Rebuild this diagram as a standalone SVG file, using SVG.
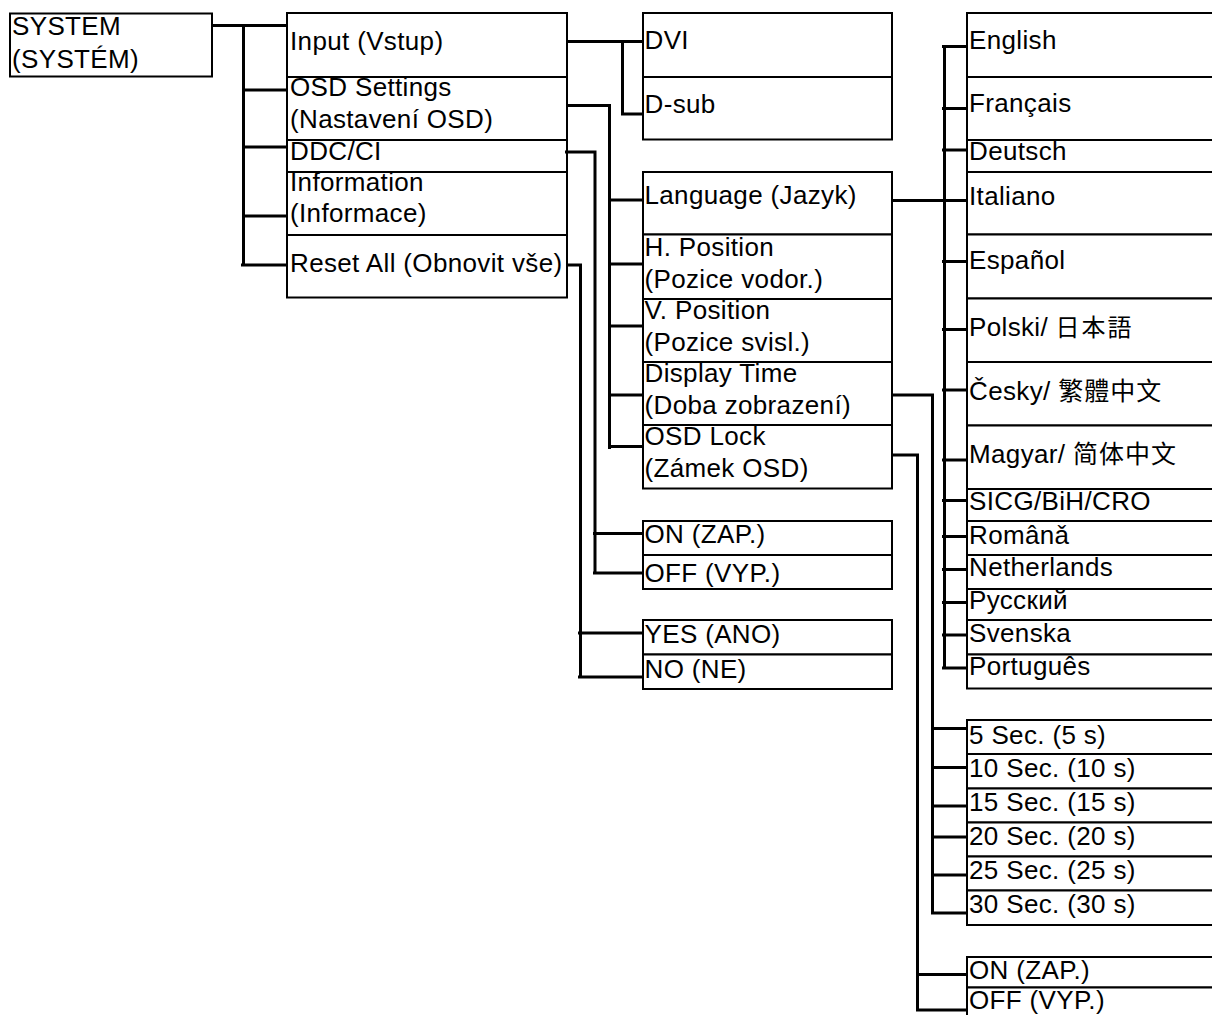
<svg xmlns="http://www.w3.org/2000/svg" width="1212" height="1015" viewBox="0 0 1212 1015">
<style>
.box{fill:#fff;stroke:#000;stroke-width:2}
.t{font-family:"Liberation Sans",Arial,sans-serif;font-size:26px;letter-spacing:0.35px;fill:#000}
.c{fill:none;stroke:#000;stroke-width:3}
.jp{font-family:"Noto Sans CJK JP",sans-serif;font-size:24px;letter-spacing:2px}
.tc{font-family:"Noto Sans CJK TC",sans-serif;font-size:25px;letter-spacing:1px}
.sc{font-family:"Noto Sans CJK SC",sans-serif;font-size:25px;letter-spacing:1px}
</style>
<rect width="1212" height="1015" fill="#fff"/>
<g id="system"><rect class="box" x="10" y="13.5" width="202" height="63"/><text class="t" x="12" y="35">SYSTEM</text><text class="t" x="12" y="68">(SYSTÉM)</text></g>

<g id="input"><rect class="box" x="287" y="13" width="280" height="64"/><text class="t" x="290" y="50">Input (Vstup)</text></g>
<g id="osd-settings"><rect class="box" x="287" y="77" width="280" height="63"/><text class="t" x="290" y="95.5">OSD Settings</text><text class="t" x="290" y="127.5">(Nastavení OSD)</text></g>
<g id="ddc-ci"><rect class="box" x="287" y="140" width="280" height="32"/><text class="t" x="290" y="160">DDC/CI</text></g>
<g id="information"><rect class="box" x="287" y="172" width="280" height="63"/><text class="t" x="290" y="190.5">Information</text><text class="t" x="290" y="222">(Informace)</text></g>
<g id="reset-all"><rect class="box" x="287" y="235" width="280" height="62.5"/><text class="t" x="290" y="271.5">Reset All (Obnovit vše)</text></g>

<g id="dvi"><rect class="box" x="643" y="13" width="249" height="64"/><text class="t" x="644.5" y="49">DVI</text></g>
<g id="d-sub"><rect class="box" x="643" y="77" width="249" height="62.5"/><text class="t" x="644.5" y="112.5">D-sub</text></g>
<g id="language"><rect class="box" x="643" y="172" width="249" height="62.5"/><text class="t" x="644.5" y="204">Language (Jazyk)</text></g>
<g id="h-position"><rect class="box" x="643" y="234.5" width="249" height="64.5"/><text class="t" x="644.5" y="256">H. Position</text><text class="t" x="644.5" y="288">(Pozice vodor.)</text></g>
<g id="v-position"><rect class="box" x="643" y="299" width="249" height="63"/><text class="t" x="644.5" y="318.5">V. Position</text><text class="t" x="644.5" y="350.5">(Pozice svisl.)</text></g>
<g id="display-time"><rect class="box" x="643" y="362" width="249" height="63"/><text class="t" x="644.5" y="381.5">Display Time</text><text class="t" x="644.5" y="413.5">(Doba zobrazení)</text></g>
<g id="osd-lock"><rect class="box" x="643" y="425" width="249" height="63.5"/><text class="t" x="644.5" y="445">OSD Lock</text><text class="t" x="644.5" y="477">(Zámek OSD)</text></g>
<g id="ddc-on"><rect class="box" x="643" y="521" width="249" height="34"/><text class="t" x="644.5" y="543">ON (ZAP.)</text></g>
<g id="ddc-off"><rect class="box" x="643" y="555" width="249" height="34"/><text class="t" x="644.5" y="581.5">OFF (VYP.)</text></g>
<g id="reset-yes"><rect class="box" x="643" y="620" width="249" height="34.5"/><text class="t" x="644.5" y="643">YES (ANO)</text></g>
<g id="reset-no"><rect class="box" x="643" y="654.5" width="249" height="34.5"/><text class="t" x="644.5" y="678">NO (NE)</text></g>

<g id="lang-english"><rect class="box" x="967" y="13" width="260" height="64"/><text class="t" x="969" y="49">English</text></g>
<g id="lang-francais"><rect class="box" x="967" y="77" width="260" height="63"/><text class="t" x="969" y="111.5">Français</text></g>
<g id="lang-deutsch"><rect class="box" x="967" y="140" width="260" height="32"/><text class="t" x="969" y="159.5">Deutsch</text></g>
<g id="lang-italiano"><rect class="box" x="967" y="172" width="260" height="62.5"/><text class="t" x="969" y="205">Italiano</text></g>
<g id="lang-espanol"><rect class="box" x="967" y="234.5" width="260" height="64"/><text class="t" x="969" y="268.5">Español</text></g>
<g id="lang-polski"><rect class="box" x="967" y="298.5" width="260" height="63.5"/><text class="t" x="969" y="336">Polski/ <tspan class="jp">日本語</tspan></text></g>
<g id="lang-cesky"><rect class="box" x="967" y="362" width="260" height="63.5"/><text class="t" x="969" y="399.5">Česky/ <tspan class="tc">繁體中文</tspan></text></g>
<g id="lang-magyar"><rect class="box" x="967" y="425.5" width="260" height="63.5"/><text class="t" x="969" y="462.5">Magyar/ <tspan class="sc">简体中文</tspan></text></g>
<g id="lang-sicg"><rect class="box" x="967" y="489" width="260" height="32"/><text class="t" x="969" y="509.5">SICG/BiH/CRO</text></g>
<g id="lang-romana"><rect class="box" x="967" y="521" width="260" height="34"/><text class="t" x="969" y="543.5">Românǎ</text></g>
<g id="lang-netherlands"><rect class="box" x="967" y="555" width="260" height="34"/><text class="t" x="969" y="576">Netherlands</text></g>
<g id="lang-russian"><rect class="box" x="967" y="589" width="260" height="31"/><text class="t" x="969" y="608.5">Русский</text></g>
<g id="lang-svenska"><rect class="box" x="967" y="620" width="260" height="34.5"/><text class="t" x="969" y="641.5">Svenska</text></g>
<g id="lang-portugues"><rect class="box" x="967" y="654.5" width="260" height="34"/><text class="t" x="969" y="675">Português</text></g>

<g id="sec-5"><rect class="box" x="967" y="720" width="260" height="34"/><text class="t" x="969" y="743.5">5 Sec. (5 s)</text></g>
<g id="sec-10"><rect class="box" x="967" y="754" width="260" height="34.5"/><text class="t" x="969" y="776.5">10 Sec. (10 s)</text></g>
<g id="sec-15"><rect class="box" x="967" y="788.5" width="260" height="34"/><text class="t" x="969" y="810.5">15 Sec. (15 s)</text></g>
<g id="sec-20"><rect class="box" x="967" y="822.5" width="260" height="34"/><text class="t" x="969" y="845">20 Sec. (20 s)</text></g>
<g id="sec-25"><rect class="box" x="967" y="856.5" width="260" height="34"/><text class="t" x="969" y="879">25 Sec. (25 s)</text></g>
<g id="sec-30"><rect class="box" x="967" y="890.5" width="260" height="34.5"/><text class="t" x="969" y="912.5">30 Sec. (30 s)</text></g>
<g id="lock-on"><rect class="box" x="967" y="957" width="260" height="30.5"/><text class="t" x="969" y="978.5">ON (ZAP.)</text></g>
<g id="lock-off"><rect class="box" x="967" y="987.5" width="260" height="45"/><text class="t" x="969" y="1008.5">OFF (VYP.)</text></g>

<g id="connectors" class="c">
<path d="M212,25.5H287M243.5,25.5V266.5M243.5,90H287M243.5,147H287M243.5,216H287M241,265H287"/>
<path d="M567,41.5H643M622.5,40V115.5M621,114H643"/>
<path d="M567,105.5H611M609.5,104V449M609.5,200H643M609.5,264H643M609.5,326H643M609.5,395H643M608,446.5H643"/>
<path d="M565,152H596.5M595,150.5V574.5M593,533.5H643M593,573H643"/>
<path d="M566,265H582M580.5,263.5V678.5M578,633H643M578,677H643"/>
<path d="M892,200.5H967M944.5,45V669.5M942,46.5H967M942,108.5H967M942,150H967M942,261.5H967M942,329.5H967M942,390H967M942,460H967M942,500.5H967M942,536.5H967M942,569.5H967M942,602.5H967M942,635H967M942,668H967"/>
<path d="M892,395H934M932.5,393.5V914.5M932.5,728.5H967M932.5,767.5H967M932.5,806H967M932.5,837H967M932.5,875H967M931,913H967"/>
<path d="M892,455H919M917.5,453.5V1011.5M917.5,974.5H967M916,1010H967"/>
</g>
</svg>
